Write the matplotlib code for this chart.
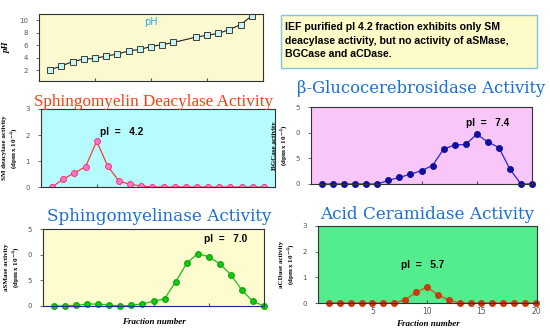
import numpy as np
import matplotlib
matplotlib.use("Agg")
import matplotlib.pyplot as plt

# fractions and values
ph_frac = [1, 2, 3, 4, 5, 6, 7, 8, 9, 10, 11, 12, 14, 15, 16, 17, 18, 19]
ph_vals = [2.1, 2.7, 3.4, 3.8, 3.9, 4.3, 4.6, 5.1, 5.35, 5.8, 6.1, 6.45,
           7.3, 7.6, 7.9, 8.5, 9.3, 10.7]

fractions = list(range(1, 21))
smdase = [0, 0.31, 0.54, 0.78, 1.76, 0.79, 0.23, 0.1, 0.04, 0,
          0, 0, 0, 0, 0, 0, 0, 0, 0, 0]
bgcase = [0, 0, 0, 0, 0, 0, 0.7, 1.3, 1.9, 2.6,
          3.6, 6.8, 7.6, 7.7, 9.7, 8.2, 7.1, 2.9, 0, 0]
asmase = [0, 0, 0.1, 0.4, 0.35, 0.2, 0, 0.1, 0.45, 0.9,
          1.4, 4.7, 8.3, 10.2, 9.6, 8.2, 6.1, 3.1, 0.9, 0]
acdase = [0, 0, 0, 0, 0, 0, 0, 0.13, 0.41, 0.62,
          0.32, 0.12, 0, 0, 0, 0, 0, 0, 0, 0]

W, H = 550, 331
fig = plt.figure(figsize=(W / 100, H / 100), dpi=100)
fig.patch.set_facecolor('white')

SERIF = 'Liberation Serif'
WIDE_SERIF = 'DejaVu Serif'
SANS = 'Liberation Sans'


def px_axes(l, t, r, b):
    # axes from pixel box (left, top, right, bottom)
    return fig.add_axes([l / W, 1 - b / H, (r - l) / W, (b - t) / H])


def style(ax, bg):
    ax.set_facecolor(bg)
    for s in ax.spines.values():
        s.set_color('#333333')
        s.set_linewidth(0.8)
    ax.tick_params(axis='y', labelsize=5, colors='#555555', length=2, width=0.6, pad=6)
    ax.tick_params(axis='x', labelsize=5.5, colors='#555555', length=2.5, width=0.8,
                   direction='in', pad=3)


def ylab(ax, name):
    ax.set_ylabel(name + '\n(dpm x 10$^{-4}$)', fontsize=5, fontweight='bold',
                  family=SERIF, labelpad=3, linespacing=1.3)


# ---- pH panel
ax = px_axes(39, 14, 263, 81)
style(ax, '#fbf9cf')
ax.plot(ph_frac, ph_vals, color='#222222', lw=0.8, marker='s', ms=4,
        mfc='#c8f4f4', mec='#222222', mew=0.6)
ax.set_xlim(0, 20)
ax.set_ylim(0.3, 11.0)
ax.set_yticks([2, 4, 6, 8, 10])
ax.set_xticks([0, 5, 10, 15, 20])
ax.set_xticklabels([])
ax.set_ylabel('pH', fontsize=6.5, fontstyle='italic', fontweight='bold', family=SERIF, labelpad=6)
ax.text(0.5, 0.88, 'pH', transform=ax.transAxes, ha='center', va='center',
        color='#2aa8ee', fontsize=7)

# ---- note box
fig.text(285 / W, 1 - 40.5 / H,
         'IEF purified pI 4.2 fraction exhibits only SM\n'
         'deacylase activity, but no activity of aSMase,\n'
         'BGCase and aCDase.',
         ha='left', va='center', fontsize=7.6, fontweight='bold', family=SANS,
         linespacing=1.4)
box = plt.Rectangle((281 / W, 1 - 68 / H), 256 / W, 53 / H, transform=fig.transFigure,
                    facecolor='#fdfbc8', edgecolor='#7fc4e0', lw=1.0, zorder=-1)
fig.patches.append(box)

# ---- SM deacylase
ax = px_axes(41, 109, 275, 187)
style(ax, '#b6fbfd')
ax.plot(fractions, smdase, color='#ff3a3a', lw=0.9, marker='o', ms=4.3,
        mfc='#ff77cc', mec='#ff2266', mew=0.6)
ax.set_xlim(0, 21)
ax.set_ylim(0, 3)
ax.set_yticks([0, 1, 2, 3])
ax.set_xticks([5])
ax.set_xticklabels([])
ylab(ax, 'SM deacylase activity')
ax.text(0.25, 0.71, 'pI  =   4.2', transform=ax.transAxes, fontsize=7.3, fontweight='bold',
        family=SANS, va='center')
fig.text(154 / W, 1 - 106 / H, 'Sphingomyelin Deacylase Activity', ha='center',
         va='baseline', color='#ff3b10', fontsize=12.3, family=SERIF)

# ---- BGCase
ax = px_axes(311, 107, 532, 184)
style(ax, '#f9c6f9')
ax.plot(fractions, bgcase, color='#2828c8', lw=0.9, marker='o', ms=4,
        mfc='#1010a0', mec='#1010a0', clip_on=False)
ax.set_xlim(0, 20)
ax.set_ylim(0, 15)
ax.set_yticks([0, 5, 10, 15])
ax.set_yticklabels(['0', '5', '0', '5'])
ax.set_xticks([5, 10, 15])
ax.set_xticklabels([])
ylab(ax, 'BGCase activity')
ax.text(0.7, 0.79, 'pI  =   7.4', transform=ax.transAxes, fontsize=7.3, fontweight='bold',
        family=SANS, va='center')
fig.text(421 / W, 1 - 93 / H, '\u03b2-Glucocerebrosidase Activity', ha='center',
         va='baseline', color='#1a6fd8', fontsize=11.8, family=WIDE_SERIF)

# ---- aSMase
ax = px_axes(43, 229, 264, 306)
style(ax, '#fdfccf')
ax.spines['bottom'].set_color('#1a2a90')
ax.plot(fractions, asmase, color='#22bb22', lw=0.9, marker='o', ms=4,
        mfc='#11cc11', mec='#11aa11', clip_on=False)
ax.set_xlim(0, 20)
ax.set_ylim(0, 15)
ax.set_yticks([0, 5, 10, 15])
ax.set_yticklabels(['0', '5', '0', '5'])
ax.set_xticks([5, 10, 15])
ax.set_xticklabels([])
ylab(ax, 'aSMase activity')
ax.text(0.73, 0.87, 'pI  =   7.0', transform=ax.transAxes, fontsize=7.3, fontweight='bold',
        family=SANS, va='center')
ax.set_xlabel('Fraction number', fontsize=6.5, fontstyle='italic', fontweight='bold',
              family=SERIF, labelpad=6)
fig.text(159 / W, 1 - 221 / H, 'Sphingomyelinase Activity', ha='center',
         va='baseline', color='#1a6fd8', fontsize=12.1, family=WIDE_SERIF)

# ---- aCDase
ax = px_axes(318, 226, 537, 303)
style(ax, '#52ee8e')
ax.plot(fractions, acdase, color='#d05020', lw=0.9, marker='o', ms=4,
        mfc='#c83a10', mec='#c83a10', clip_on=False)
ax.set_xlim(0, 20.1)
ax.set_ylim(0, 3)
ax.set_yticks([0, 1, 2, 3])
ax.set_xticks([5, 10, 15, 20])
ylab(ax, 'aCDase activity')
ax.text(0.38, 0.5, 'pI  =   5.7', transform=ax.transAxes, fontsize=7.3, fontweight='bold',
        family=SANS, va='center')
ax.set_xlabel('Fraction number', fontsize=6.5, fontstyle='italic', fontweight='bold',
              family=SERIF, labelpad=3)
fig.text(427 / W, 1 - 219 / H, 'Acid Ceramidase Activity', ha='center',
         va='baseline', color='#1a6fd8', fontsize=12.1, family=WIDE_SERIF)

fig.savefig('out.png', dpi=100)
